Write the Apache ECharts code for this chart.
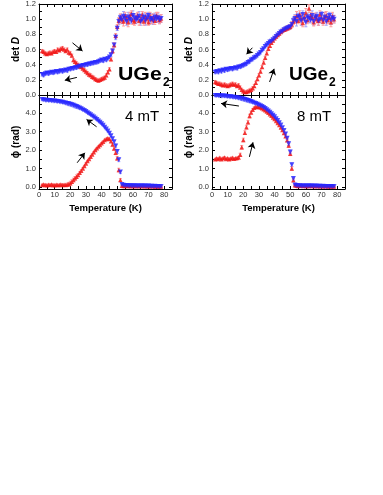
<!DOCTYPE html>
<html><head><meta charset="utf-8">
<script src="https://cdn.jsdelivr.net/npm/echarts@6/dist/echarts.min.js"></script>
<style>html,body{margin:0;padding:0;background:#fff}#c{width:383px;height:495px}</style>
</head><body><div id="c"></div>
<script>
// Temperature (K) for every series
const temps = [2,3,4,5,6,7,8,9,10,11,12,13,14,15,16,17,18,19,20,21,22,23,24,25,26,27,28,29,30,31,32,33,34,35,36,37,38,39,40,41,42,43,44,45,46,47,48,49,50,51,52,53,54,55,56,57,58,59,60,61,62,63,64,65,66,67,68,69,70,71,72,73,74,75,76,77,78];

// 4 mT, det D
const detD4Red = [0.58,0.57,0.55,0.54,0.55,0.56,0.55,0.57,0.58,0.57,0.60,0.59,0.61,0.62,0.60,0.58,0.60,0.56,0.55,
  0.52,0.46,0.44,0.42,0.40,0.38,0.37,0.35,0.33,0.31,0.29,0.27,0.26,0.24,0.23,0.21,0.20,0.19,0.20,0.21,0.22,0.23,0.26,0.30,0.34,0.47,0.58,0.66,0.78,0.90,0.98,1.03,
  1.00,0.97,1.05,1.01,0.96,1.04,1.07,0.99,0.97,1.02,1.05,0.98,1.00,1.06,0.97,1.03,1.01,0.96,1.04,1.00,1.02,0.98,1.05,1.03,0.99,1.01];
const detD4Blue = [0.27,0.26,0.28,0.29,0.28,0.29,0.30,0.29,0.30,0.31,0.30,0.31,0.32,0.31,0.32,0.33,0.32,0.34,0.34,
  0.35,0.35,0.36,0.36,0.37,0.38,0.38,0.39,0.39,0.40,0.40,0.41,0.41,0.42,0.42,0.43,0.43,0.44,0.45,0.46,0.45,0.47,0.46,0.48,0.50,0.53,0.58,0.66,0.76,0.88,0.97,1.02,
  0.99,1.04,1.01,0.97,1.03,1.00,0.98,1.05,1.02,0.99,1.01,1.04,0.97,1.00,1.03,0.98,1.02,1.05,0.99,1.01,0.98,1.03,1.00,1.02,0.99,1.01];
// 8 mT, det D
const detD8Red = [0.17,0.16,0.15,0.15,0.14,0.13,0.14,0.13,0.12,0.13,0.14,0.15,0.14,0.14,0.12,0.13,0.10,0.07,0.05,
  0.04,0.04,0.05,0.06,0.07,0.09,0.12,0.16,0.21,0.26,0.31,0.37,0.43,0.49,0.55,0.61,0.65,0.69,0.72,0.75,0.77,0.79,0.81,0.83,0.85,0.86,0.87,0.88,0.89,0.90,0.93,0.97,
  1.00,1.04,0.98,1.06,1.01,0.95,1.03,1.08,0.99,1.14,1.05,1.02,0.96,1.04,1.00,0.98,1.06,1.01,0.97,1.03,1.05,0.99,1.02,0.96,1.04,1.00];
const detD8Blue = [0.30,0.31,0.30,0.32,0.31,0.33,0.32,0.34,0.33,0.34,0.35,0.34,0.35,0.36,0.35,0.37,0.37,0.38,0.39,
  0.40,0.41,0.43,0.44,0.46,0.47,0.49,0.50,0.52,0.54,0.56,0.59,0.61,0.64,0.66,0.68,0.70,0.71,0.73,0.75,0.77,0.79,0.81,0.83,0.84,0.86,0.87,0.88,0.89,0.90,0.93,0.98,
  1.01,0.97,1.04,1.02,0.98,1.06,1.00,0.96,1.03,1.01,0.99,1.05,0.97,1.02,1.04,0.98,1.00,1.06,0.99,1.03,0.97,1.01,1.05,0.99,1.02,1.00];
// 4 mT, phi (rad)
const phi4Red = [0.10,0.12,0.10,0.09,0.11,0.10,0.12,0.10,0.09,0.11,0.10,0.10,0.12,0.10,0.11,0.10,0.12,0.14,0.20,
  0.28,0.37,0.46,0.55,0.64,0.76,0.88,1.00,1.13,1.27,1.40,1.52,1.64,1.76,1.88,2.00,2.10,2.19,2.27,2.37,2.46,2.55,2.60,2.64,2.60,2.48,2.30,2.09,1.85,1.55,0.91,0.37,
  0.06,0.05,0.05,0.06,0.05,0.04,0.05,0.05,0.04,0.05,0.04,0.04,0.05,0.04,0.04,0.03,0.04,0.03,0.03,0.04,0.03,0.02,0.03,0.02,0.02,0.02];
const phi4Blue = [4.76,4.74,4.72,4.72,4.70,4.70,4.69,4.68,4.67,4.66,4.65,4.63,4.62,4.60,4.58,4.56,4.54,4.52,4.50,
  4.47,4.44,4.40,4.37,4.33,4.29,4.25,4.20,4.15,4.10,4.04,3.98,3.92,3.86,3.80,3.73,3.66,3.59,3.51,3.43,3.35,3.25,3.15,3.04,2.92,2.78,2.62,2.45,2.22,1.92,1.47,0.80,
  0.12,0.08,0.07,0.07,0.06,0.06,0.06,0.05,0.06,0.05,0.05,0.04,0.05,0.04,0.04,0.04,0.03,0.04,0.03,0.03,0.02,0.03,0.02,0.02,0.01,0.01];
// 8 mT, phi (rad)
const phi8Red = [1.50,1.55,1.52,1.58,1.50,1.55,1.60,1.52,1.56,1.50,1.54,1.58,1.53,1.55,1.57,1.60,1.75,2.15,2.55,
  2.95,3.25,3.52,3.85,4.05,4.20,4.30,4.35,4.36,4.35,4.32,4.28,4.23,4.17,4.10,4.03,3.95,3.87,3.78,3.69,3.59,3.48,3.36,3.23,3.09,2.93,2.76,2.54,2.25,1.80,1.00,0.36,
  0.08,0.06,0.05,0.06,0.07,0.05,0.06,0.05,0.04,0.05,0.06,0.04,0.05,0.04,0.04,0.05,0.03,0.04,0.03,0.03,0.04,0.02,0.03,0.02,0.02,0.02];
const phi8Blue = [4.97,4.97,4.96,4.96,4.95,4.95,4.94,4.93,4.92,4.91,4.90,4.89,4.88,4.86,4.85,4.83,4.82,4.80,4.78,
  4.75,4.73,4.70,4.68,4.64,4.61,4.57,4.54,4.50,4.46,4.42,4.37,4.32,4.26,4.20,4.13,4.06,3.98,3.90,3.81,3.71,3.61,3.49,3.36,3.22,3.06,2.88,2.65,2.35,1.90,1.20,0.45,
  0.10,0.07,0.06,0.06,0.05,0.05,0.05,0.04,0.05,0.04,0.04,0.04,0.03,0.04,0.03,0.03,0.03,0.02,0.03,0.02,0.02,0.02,0.01,0.02,0.01,0.01];

// error bars (half-widths)
const errDetD = [0.02,0.02,0.02,0.02,0.02,0.02,0.02,0.02,0.02,0.02,0.02,0.02,0.02,0.02,0.02,0.02,0.02,0.02,0.02,
  0.02,0.02,0.02,0.02,0.02,0.02,0.02,0.02,0.02,0.02,0.02,0.02,0.02,0.02,0.02,0.02,0.02,0.02,0.02,0.02,0.02,0.02,0.02,0.02,0.02,0.02,0.03,0.03,0.03,0.03,0.04,0.04,
  0.05,0.06,0.04,0.05,0.06,0.05,0.04,0.06,0.05,0.05,0.04,0.06,0.05,0.04,0.05,0.06,0.05,0.04,0.05,0.06,0.05,0.05,0.04,0.06,0.05,0.05];
const errPhi = [0.04,0.04,0.04,0.04,0.04,0.04,0.04,0.04,0.04,0.04,0.04,0.04,0.04,0.04,0.04,0.04,0.08,0.10,0.10,
  0.10,0.10,0.10,0.10,0.08,0.06,0.05,0.04,0.04,0.04,0.04,0.04,0.04,0.04,0.04,0.04,0.04,0.04,0.04,0.04,0.04,0.04,0.05,0.05,0.06,0.06,0.08,0.08,0.10,0.10,0.10,0.08,
  0.03,0.03,0.03,0.03,0.03,0.03,0.03,0.03,0.03,0.03,0.03,0.03,0.03,0.03,0.03,0.03,0.03,0.03,0.03,0.03,0.03,0.03,0.03,0.03,0.03,0.03];

// tick values / labels
const xTicks = [0,5,10,15,20,25,30,35,40,45,50,55,60,65,70,75,80,85];
const xLabels = [0,10,20,30,40,50,60,70,80];
const detDTicks = [0,0.1,0.2,0.3,0.4,0.5,0.6,0.7,0.8,0.9,1.0,1.1,1.2];
const detDLabels = [0,0.2,0.4,0.6,0.8,1.0,1.2];
const phiTicks = [0,0.5,1,1.5,2,2.5,3,3.5,4,4.5,5];
const phiLabels = [0,1,2,3,4];

const FONT = '"Liberation Sans", Arial, sans-serif';
const RED = '#f01414', BLUE = '#2626ff', RED_E = '#ff9c9c', BLUE_E = '#a0a0ff';

const chart = echarts.init(document.getElementById('c'), null, {renderer:'canvas'});

const grids = [
  {left:39, top:2, width:133, height:93},
  {left:39, top:95, width:133, height:94},
  {left:212, top:2, width:133, height:93},
  {left:212, top:95, width:133, height:94}
];

const xAxes = [], yAxes = [];
grids.forEach((g, gi) => {
  const bottomPanel = gi % 2 === 1;
  const base = {
    type:'value', gridIndex:gi, min:0, max:85,
    axisLine:{onZero:false, lineStyle:{color:'#000', width:1}},
    axisTick:{inside:true, length:3, customValues:xTicks, lineStyle:{color:'#000', width:1}},
    splitLine:{show:false}
  };
  xAxes.push(Object.assign({}, base, {
    position:'bottom',
    axisLabel:{show:bottomPanel, customValues:xLabels, margin:2, fontSize:7.5, color:'#333', fontFamily:FONT},
    name: bottomPanel ? 'Temperature (K)' : '', nameLocation:'middle', nameGap:14,
    nameTextStyle:{fontWeight:'bold', fontSize:9.5, color:'#000', fontFamily:FONT}
  }));
  xAxes.push(Object.assign({}, base, {position:'top', axisLabel:{show:false}}));
  const yb = bottomPanel
    ? {min:-0.12, max:5, ticks:phiTicks, labels:phiLabels, name:'ϕ (rad)'}
    : {min:0, max:1.2, ticks:detDTicks, labels:detDLabels, name:'{n|det }{i|D}'};
  const ybase = {
    type:'value', gridIndex:gi, min:yb.min, max:yb.max,
    axisLine:{onZero:false, lineStyle:{color:'#000', width:1}},
    axisTick:{inside:true, length:3, customValues:yb.ticks, lineStyle:{color:'#000', width:1}},
    splitLine:{show:false}
  };
  yAxes.push(Object.assign({}, ybase, {
    position:'left',
    axisLabel:{customValues:yb.labels, margin:3, fontSize:7.5, color:'#333', fontFamily:FONT,
      formatter:v => Number(v).toFixed(1)},
    name: yb.name, nameLocation:'middle', nameRotate:90, nameGap:17,
    nameTextStyle:{fontWeight:'bold', fontSize:10, color:'#000', fontFamily:FONT,
      rich:{n:{fontWeight:'bold', fontSize:10, fontFamily:FONT}, i:{fontWeight:'bold', fontStyle:'italic', fontSize:10, fontFamily:FONT}}}
  }));
  yAxes.push(Object.assign({}, ybase, {position:'right', axisLabel:{show:false}}));
});

function pairs(vals) { return temps.map((t, i) => [t, vals[i]]); }
function errData(vals, errs) { return temps.map((t, i) => [t, vals[i] - errs[i], vals[i] + errs[i]]); }

function errSeries(gi, vals, errs, color) {
  return {
    type:'custom', xAxisIndex:gi*2, yAxisIndex:gi*2, silent:true, animation:false, z:1,
    data: errData(vals, errs),
    renderItem: (params, api) => {
      const x = api.value(0);
      const p0 = api.coord([x, api.value(1)]);
      const p1 = api.coord([x, api.value(2)]);
      const st = {stroke:color, lineWidth:1};
      return {type:'group', children:[
        {type:'line', shape:{x1:p0[0], y1:p0[1], x2:p1[0], y2:p1[1]}, style:st},
        {type:'line', shape:{x1:p0[0]-1.5, y1:p0[1], x2:p0[0]+1.5, y2:p0[1]}, style:st},
        {type:'line', shape:{x1:p1[0]-1.5, y1:p1[1], x2:p1[0]+1.5, y2:p1[1]}, style:st}
      ]};
    }
  };
}
function scatter(gi, vals, color, rot, size, arrows) {
  const s = {
    type:'scatter', xAxisIndex:gi*2, yAxisIndex:gi*2, silent:true, animation:false, z:3,
    symbol:'triangle', symbolSize:size, symbolRotate:rot,
    itemStyle:{color:color}, data:pairs(vals)
  };
  if (arrows) {
    s.markLine = {
      silent:true, animation:false, symbol:['none','arrow'], symbolSize:6,
      lineStyle:{color:'#000', width:1, type:'solid'}, label:{show:false},
      emphasis:{disabled:true},
      data: arrows.map(a => [{coord:a[0]}, {coord:a[1]}])
    };
  }
  return s;
}

// annotation arrows in data coordinates
const arrowsTL = [[[21.4,0.688],[27.8,0.58]], [[24.2,0.232],[16.5,0.194]]];
const arrowsBL = [[[36.8,3.27],[30.4,3.67]], [[24.4,1.31],[29.3,1.85]]];
const arrowsTR = [[[25.8,0.623],[22.1,0.538]], [[36.8,0.172],[39.7,0.345]]];
const arrowsBR = [[[17.2,4.40],[5.8,4.54]], [[23.9,1.63],[26.2,2.42]]];

const panels = [
  {red:detD4Red, blue:detD4Blue, err:errDetD, arrows:arrowsTL},
  {red:phi4Red, blue:phi4Blue, err:errPhi, arrows:arrowsBL},
  {red:detD8Red, blue:detD8Blue, err:errDetD, arrows:arrowsTR},
  {red:phi8Red, blue:phi8Blue, err:errPhi, arrows:arrowsBR}
];
const series = [];
panels.forEach((p, gi) => {
  series.push(errSeries(gi, p.blue, p.err, BLUE_E));
  series.push(errSeries(gi, p.red, p.err, RED_E));
  series.push(scatter(gi, p.red, RED, 0, 4.5, p.arrows));
  series.push(scatter(gi, p.blue, BLUE, 180, 5, null));
});

function label(x, y, text, size, bold, sx) {
  return {type:'text', x:x, y:y, scaleX:sx||1, silent:true, z:10,
    style:{text:text, fill:'#000', font:(bold?'bold ':'') + size + 'px ' + FONT, align:'left', verticalAlign:'top'}};
}

chart.setOption({
  animation:false,
  backgroundColor:'#fff',
  grid:grids,
  xAxis:xAxes,
  yAxis:yAxes,
  series:series,
  graphic:[
    label(118, 65, 'UGe', 19, true, 1.12),
    label(163, 77, '2', 12, true, 1),
    label(289, 65, 'UGe', 19, true, 1.0),
    label(329, 77, '2', 12, true, 1),
    label(125, 109, '4 mT', 15, false, 1),
    label(297, 109, '8 mT', 15, false, 1)
  ]
});
</script>
</body></html>
